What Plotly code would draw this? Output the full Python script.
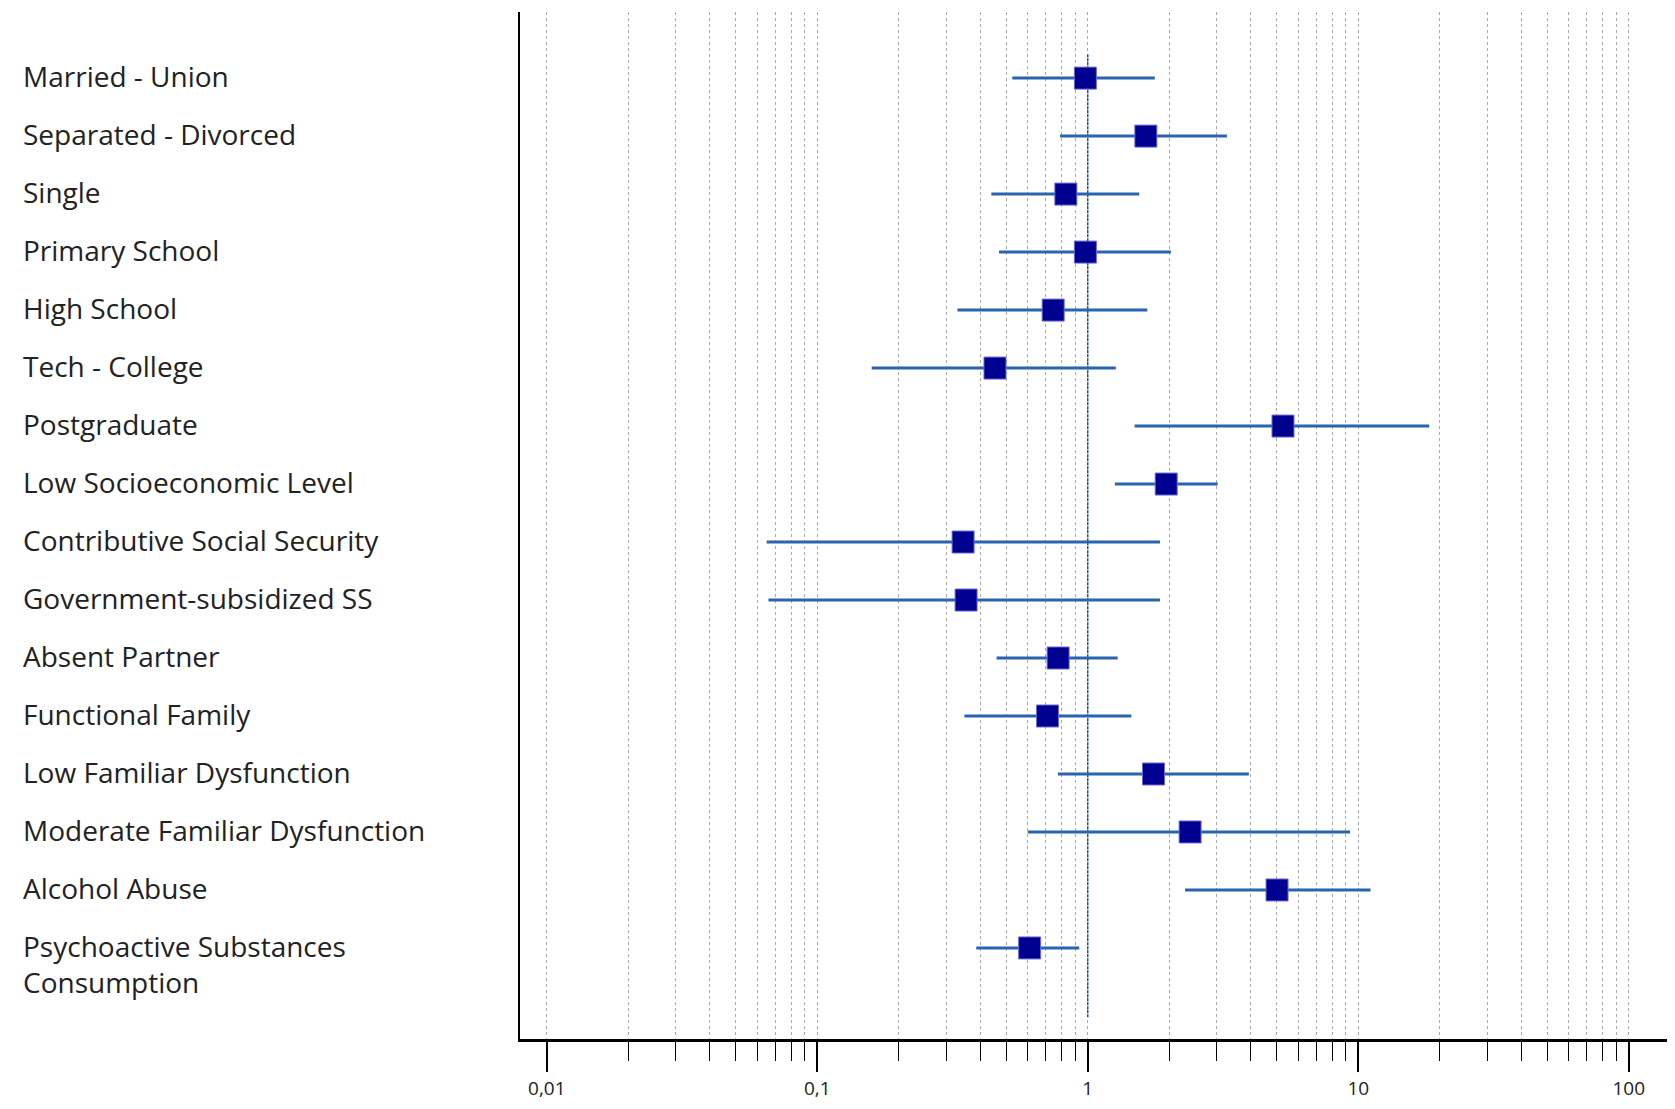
import numpy as np
import plotly.graph_objects as go

# odds ratios and 95% CI (top to bottom)
labels = [
    'Married - Union',
    'Separated - Divorced',
    'Single',
    'Primary School',
    'High School',
    'Tech - College',
    'Postgraduate',
    'Low Socioeconomic Level',
    'Contributive Social Security',
    'Government-subsidized SS',
    'Absent Partner',
    'Functional Family',
    'Low Familiar Dysfunction',
    'Moderate Familiar Dysfunction',
    'Alcohol Abuse',
    'Psychoactive Substances<br>Consumption',
]
odds = [0.98, 1.64, 0.83, 0.98, 0.745, 0.454, 5.27, 1.95, 0.346, 0.355, 0.777, 0.71, 1.75, 2.39, 5.01, 0.61]
ci_low = [0.526, 0.79, 0.44, 0.47, 0.33, 0.159, 1.49, 1.26, 0.065, 0.066, 0.46, 0.35, 0.776, 0.60, 2.29, 0.387]
ci_high = [1.77, 3.27, 1.55, 2.03, 1.66, 1.27, 18.3, 3.02, 1.85, 1.85, 1.29, 1.45, 3.94, 9.33, 11.1, 0.93]

major_ticks = [0.01, 0.1, 1, 10, 100]
major_text = ['0,01', '0,1', '1', '10', '100']

rows = list(range(len(labels)))
odds = np.array(odds)
err_plus = np.array(ci_high) - odds
err_minus = odds - np.array(ci_low)

minor_vals = [m * d for d in [0.01, 0.1, 1, 10] for m in range(2, 10)]

fig = go.Figure()

# reference line at OR = 1
fig.add_trace(go.Scatter(
    x=[1, 1], y=[-0.41, 16.2], mode='lines',
    line=dict(color='#1c4e96', width=1.5, dash='3px,1px'),
    hoverinfo='skip', showlegend=False,
))

fig.add_trace(go.Scatter(
    x=odds, y=rows, mode='markers',
    marker=dict(symbol='square', size=22, color='#000090',
                line=dict(color='#6a6ad8', width=1)),
    error_x=dict(type='data', symmetric=False, array=err_plus, arrayminus=err_minus,
                 color='#2a63ae', thickness=3, width=0),
    showlegend=False,
))

for i, lab in enumerate(labels):
    fig.add_annotation(
        x=-0.433, xref='paper', y=i, yref='y',
        text=lab, showarrow=False, xanchor='left', yanchor='top',
        yshift=23, align='left',
        font=dict(family='Open Sans', size=28, color='#222222'),
    )

fig.update_xaxes(
    type='log', range=[-2.099, 2.16],
    tickmode='array', tickvals=major_ticks, ticktext=major_text,
    ticks='outside', ticklen=30, tickwidth=1.5, tickcolor='black',
    tickfont=dict(family='Open Sans', size=19, color='#222222'),
    showline=True, linecolor='black', linewidth=2.5,
    showgrid=True, gridcolor='#a8a8a8', gridwidth=1, griddash='dot',
    minor=dict(tickmode='array', tickvals=minor_vals, ticks='outside', ticklen=19,
               tickwidth=1, tickcolor='black', showgrid=True,
               gridcolor='#a8a8a8', gridwidth=1, griddash='dot'),
    zeroline=False,
)
fig.update_yaxes(
    range=[16.57, -1.14], showticklabels=False, showgrid=False, zeroline=False,
    showline=True, linecolor='black', linewidth=2, ticks='',
)

fig.update_layout(
    width=1675, height=1109,
    margin=dict(l=512, r=11, t=4, b=78),
    plot_bgcolor='white', paper_bgcolor='white',
)

fig.write_html("out.html")
